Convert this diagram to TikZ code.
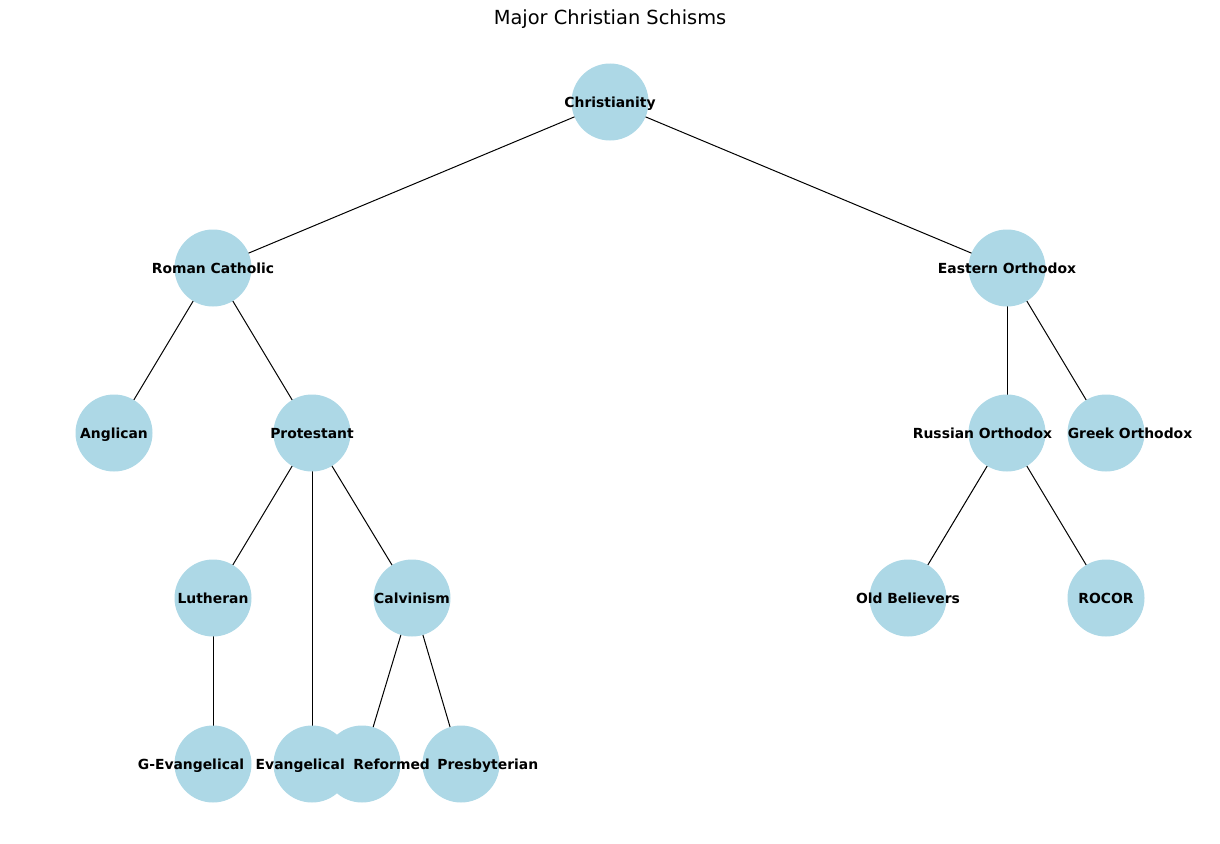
\documentclass[tikz,border=0pt]{standalone}
\usepackage{fontspec}
\setmainfont{DejaVu Sans}
\usetikzlibrary{backgrounds}
\definecolor{nodeblue}{HTML}{ADD8E6}
\tikzset{
  vert/.style={circle,fill=nodeblue,minimum size=77pt,inner sep=0pt,outer sep=0pt},
  lbl/.style={inner sep=0pt,text height=13pt,text depth=3pt,font=\fontsize{13.9}{15}\selectfont\bfseries,text=black},
  edge/.style={draw=black,line width=1pt},
  ttl/.style={inner sep=0pt,font=\fontsize{19.4}{21}\selectfont,text=black}
}
\begin{document}
\begin{tikzpicture}[x=1pt,y=-1pt]
\useasboundingbox (0,0) rectangle (1220,843);
\node[ttl] (title) at (610,19.5) {Major Christian Schisms};
% circles
\node[vert] (chr) at (610,102) {};
\node[vert] (rc) at (213,268) {};
\node[vert] (eo) at (1007,268) {};
\node[vert] (ang) at (114,433) {};
\node[vert] (pro) at (312,433) {};
\node[vert] (ru) at (1007,433) {};
\node[vert] (gr) at (1106,433) {};
\node[vert] (lut) at (213,598) {};
\node[vert] (cal) at (412,598) {};
\node[vert] (old) at (908,598) {};
\node[vert] (roc) at (1106,598) {};
\node[vert] (gev) at (213,764) {};
\node[vert] (ev) at (312,764) {};
\node[vert] (ref) at (362,764) {};
\node[vert] (pre) at (461,764) {};
% edges
\begin{scope}[on background layer]
\draw[edge] (chr.center) -- (rc.center);
\draw[edge] (chr.center) -- (eo.center);
\draw[edge] (rc.center) -- (ang.center);
\draw[edge] (rc.center) -- (pro.center);
\draw[edge] (eo.center) -- (ru.center);
\draw[edge] (eo.center) -- (gr.center);
\draw[edge] (pro.center) -- (lut.center);
\draw[edge] (pro.center) -- (ev.center);
\draw[edge] (pro.center) -- (cal.center);
\draw[edge] (lut.center) -- (gev.center);
\draw[edge] (cal.center) -- (ref.center);
\draw[edge] (cal.center) -- (pre.center);
\draw[edge] (ru.center) -- (old.center);
\draw[edge] (ru.center) -- (roc.center);
\end{scope}
% labels
\node[lbl] (chr-l) at (chr) {Christianity};
\node[lbl] (rc-l) at (rc) {Roman Catholic};
\node[lbl] (eo-l) at (eo) {Eastern Orthodox};
\node[lbl] (ang-l) at (ang) {Anglican};
\node[lbl] (pro-l) at (pro) {Protestant};
\node[lbl] (ru-l) at ([xshift=-24.5pt]ru) {Russian Orthodox};
\node[lbl] (gr-l) at ([xshift=24pt]gr) {Greek Orthodox};
\node[lbl] (lut-l) at (lut) {Lutheran};
\node[lbl] (cal-l) at (cal) {Calvinism};
\node[lbl] (old-l) at (old) {Old Believers};
\node[lbl] (roc-l) at (roc) {ROCOR};
\node[lbl] (gev-l) at ([xshift=-22pt]gev) {G-Evangelical};
\node[lbl] (ev-l) at ([xshift=-11.7pt]ev) {Evangelical};
\node[lbl] (ref-l) at ([xshift=29.7pt]ref) {Reformed};
\node[lbl] (pre-l) at ([xshift=26.8pt]pre) {Presbyterian};
\end{tikzpicture}
\end{document}
